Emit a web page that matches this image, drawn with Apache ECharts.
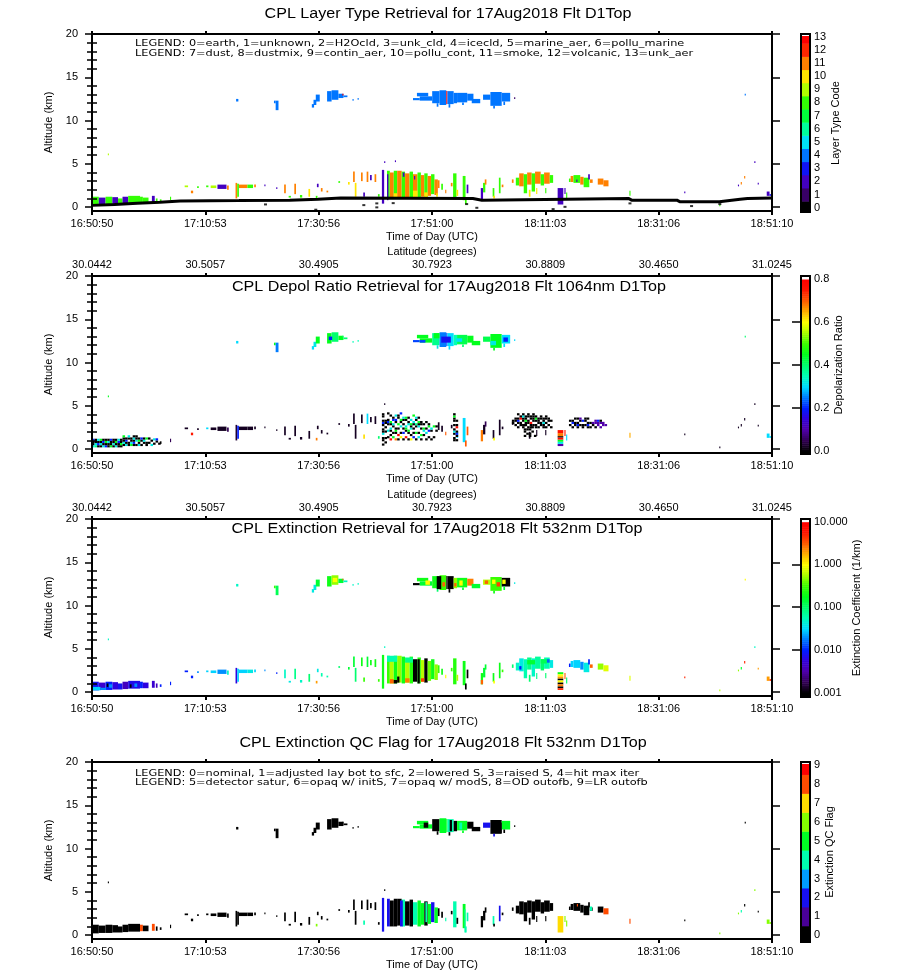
<!DOCTYPE html>
<html>
<head>
<meta charset="utf-8">
<title>CPL 17Aug2018 Flt D1Top</title>
<script src="https://cdn.jsdelivr.net/npm/echarts@6/dist/echarts.min.js"></script>
<style>
html, body { margin: 0; padding: 0; background: #fff; }
#chart { width: 900px; height: 971px; }
</style>
</head>
<body>
<div id="chart"></div>
<script>
// time is in minutes after 16:50:50 UTC, altitude in km
const timeTicks = ['16:50:50', '17:10:53', '17:30:56', '17:51:00', '18:11:03', '18:31:06', '18:51:10'];
const latTicks = ['30.0442', '30.5057', '30.4905', '30.7923', '30.8809', '30.4650', '31.0245'];
const timeSpan = 120.333;
const altTicks = [0, 5, 10, 15, 20];
const altMinor = [1, 2, 3, 4, 6, 7, 8, 9, 11, 12, 13, 14, 16, 17, 18, 19];
const typeCodes = [0, 1, 2, 3, 4, 5, 6, 7, 8, 9, 10, 11, 12, 13];
const qcCodes = [0, 1, 2, 3, 4, 5, 6, 7, 8, 9];
const depolTicks = [0, 0.2, 0.4, 0.6, 0.8];
const extTicks = [0.001, 0.01, 0.1, 1, 10];

// surface (earth) return in the layer type panel
const earthTime = [0, 4, 8, 12, 15.6, 26, 35, 40, 44, 67.4, 67.6, 69, 69.2, 95, 95.5, 103.5, 104, 111, 114.7, 116, 120.33];
const earthAlt = [0.2, 0.3, 0.45, 0.55, 0.7, 0.75, 0.8, 0.9, 1.05, 1.0, 0.8, 0.8, 1.0, 0.98, 0.8, 0.8, 0.63, 0.63, 0.92, 1.0, 1.05];
const earthDots = [[30.7, 0.31], [39.6, -0.3], [48.1, 0.23], [50.4, 0.43], [50.4, -0.03], [53.3, 0.46],
  [66.3, 0.35], [68.1, -0.08], [81.6, -0.23], [83.7, 0.03], [95.2, 0.43], [106.1, 0.12], [111.1, 0.35]];

// [t0, t1, base, top, layer type, depol ratio, extinction 1/km, qc flag]
const layerCells = [
  // cirrus
  [25.5, 25.9, 12.2, 12.5, 4, 0.30, 0.05, 0],
  [32.2, 32.5, 12.0, 12.3, 4, 0.45, 0.3, 0],
  [32.5, 33.0, 11.2, 12.3, 4, 0.25, 0.12, 0],
  [38.9, 39.3, 11.5, 11.9, 4, 0.30, 0.04, 0],
  [39.2, 39.7, 11.8, 12.4, 4, 0.32, 0.04, 0],
  [39.6, 40.3, 12.2, 13.0, 4, 0.45, 0.15, 0],
  [41.6, 42.4, 12.2, 13.4, 4, 0.45, 0.2, 0],
  [42.4, 43.6, 12.4, 13.5, 4, 0.40, 0.5, 0],
  [43.6, 44.5, 12.6, 13.1, 4, 0.45, 0.15, 0],
  [44.5, 45.2, 12.7, 12.9, 4, 0.40, 0.05, 0],
  [44.3, 44.5, 12.9, 13.1, 13, 0.40, 3, 0],
  [46.1, 46.3, 12.3, 12.5, 4, 0.35, 0.05, 0],
  [47.0, 47.2, 12.4, 12.6, 4, 0.35, 0.05, 0],
  [56.8, 58.0, 12.35, 12.6, 4, 0.22, 0.0009, 5],
  [57.5, 59.5, 12.8, 13.2, 4, 0.45, 0.2, 5],
  [58.0, 60.2, 12.3, 12.8, 4, 0.45, 0.15, 5],
  [60.2, 61.5, 12.0, 13.4, 4, 0.38, 0.2, 0],
  [61.5, 62.7, 11.8, 13.5, 4, 0.25, 0.3, 5],
  [62.7, 62.9, 11.9, 13.4, 13, 0.22, 0.0009, 5],
  [62.9, 64.0, 11.9, 13.4, 4, 0.30, 0.0009, 4],
  [64.0, 64.6, 12.0, 13.2, 4, 0.35, 0.5, 0],
  [64.6, 66.4, 12.1, 13.2, 4, 0.42, 0.2, 5],
  [66.4, 67.5, 12.3, 13.1, 4, 0.45, 2.5, 0],
  [67.2, 68.7, 12.0, 12.5, 4, 0.45, 0.15, 0],
  [69.2, 70.5, 12.4, 13.0, 4, 0.42, 0.6, 2],
  [70.5, 72.5, 11.7, 13.3, 4, 0.45, 0.3, 0],
  [72.5, 74.0, 12.2, 13.2, 4, 0.30, 0.0009, 5],
  [61.0, 61.3, 11.6, 12.0, 4, 0.32, 0.1, 0],
  [63.1, 63.4, 11.5, 11.9, 4, 0.30, 0.0009, 0],
  [65.5, 65.8, 11.8, 12.1, 4, 0.40, 0.15, 5],
  [71.0, 71.3, 11.4, 11.7, 4, 0.45, 0.2, 2],
  [72.8, 73.1, 11.8, 12.2, 4, 0.30, 0.15, 0],
  [74.7, 74.9, 12.5, 12.7, 1, 0.30, 0.04, 0],
  [115.5, 115.7, 12.9, 13.1, 4, 0.40, 1.0, 0],
  // boundary layer at the start
  [0.0, 1.2, 0.2, 1.2, 8, null, 0.008, 0],
  [1.2, 2.4, 0.25, 1.1, 2, null, 0.005, 0],
  [2.4, 3.6, 0.25, 1.2, 8, null, 0.01, 0],
  [3.6, 4.6, 0.3, 1.15, 2, null, 0.006, 0],
  [4.6, 5.4, 0.3, 1.0, 8, null, 0.008, 0],
  [5.4, 6.4, 0.35, 1.2, 2, null, 0.004, 0],
  [6.4, 8.5, 0.4, 1.3, 8, null, 0.007, 0],
  [8.5, 9.0, 0.45, 1.2, 8, null, 0.01, 8],
  [9.0, 10.0, 0.45, 1.1, 8, null, 0.006, 0],
  [10.6, 11.1, 0.5, 1.3, 2, null, 0.005, 8],
  [11.3, 11.6, 0.5, 1.0, 8, null, 0.004, 0],
  [12.0, 12.3, 0.6, 0.9, 8, 0.0, 0.01, 0],
  [13.8, 14.0, 0.8, 1.2, 8, 0.05, 0.01, 0],
  [2.8, 3.0, 6.0, 6.2, 9, 0.45, 0.05, 0],
  // thin elevated aerosol 17:07 - 17:42
  [16.4, 17.0, 2.3, 2.5, 9, 0.02, 0.01, 0],
  [17.5, 17.9, 1.6, 1.9, 11, 0.75, 0.01, 0],
  [18.6, 18.9, 2.2, 2.4, 8, 0.02, 0.02, 0],
  [20.2, 20.6, 2.3, 2.5, 8, 0.30, 0.03, 0],
  [21.0, 22.0, 2.2, 2.5, 9, 0.02, 0.03, 0],
  [22.2, 23.8, 2.1, 2.6, 2, 0.02, 0.02, 0],
  [23.9, 24.2, 2.0, 2.5, 11, 0.05, 0.05, 0],
  [25.4, 25.7, 1.0, 2.8, 11, 0.03, 0.006, 0],
  [25.7, 26.0, 1.2, 2.7, 8, 0.20, 0.03, 0],
  [26.0, 27.5, 2.2, 2.6, 11, 0.02, 0.03, 0],
  [27.5, 28.5, 2.2, 2.6, 8, 0.02, 0.04, 0],
  [28.7, 29.0, 2.3, 2.6, 11, 0.02, 0.03, 0],
  [30.5, 30.7, 2.4, 2.6, 2, 0.02, 0.02, 0],
  [32.6, 32.8, 2.1, 2.3, 2, 0.02, 0.01, 0],
  [34.0, 34.3, 1.6, 2.6, 11, 0.02, 0.05, 0],
  [35.8, 36.1, 1.5, 2.7, 11, 0.02, 0.08, 0],
  [34.8, 35.2, 1.1, 1.3, 8, 0.02, 0.04, 0],
  [36.8, 37.2, 1.1, 1.4, 8, 0.02, 0.05, 0],
  [38.3, 38.6, 1.2, 2.1, 10, 0.02, 0.1, 0],
  [39.6, 39.9, 1.0, 1.3, 8, 0.68, 2, 6],
  [39.8, 40.1, 2.3, 2.7, 2, 0.02, 0.04, 0],
  [40.5, 40.8, 1.8, 2.2, 11, 0.02, 0.06, 0],
  [41.5, 41.8, 1.7, 1.9, 11, 0.02, 0.06, 0],
  [43.6, 43.9, 2.8, 3.0, 8, 0.02, 0.1, 0],
  [45.3, 45.6, 2.6, 2.9, 10, 0.02, 0.15, 0],
  [46.2, 46.5, 2.9, 4.1, 11, 0.02, 0.15, 0],
  [46.5, 46.8, 1.2, 2.8, 10, 0.02, 0.1, 0],
  [47.6, 47.9, 3.0, 4.0, 11, 0.02, 0.2, 0],
  [48.0, 48.3, 1.2, 1.7, 2, 0.62, 0.3, 4],
  [48.6, 48.9, 2.9, 4.1, 11, 0.30, 0.15, 0],
  [49.2, 49.5, 3.1, 3.7, 2, 0.02, 0.2, 0],
  [50.0, 50.3, 2.9, 3.8, 11, 0.02, 0.2, 0],
  [50.6, 50.9, 1.2, 1.5, 8, 0.40, 0.3, 0],
  [51.3, 51.7, 0.4, 4.3, 2, null, 0.2, 2],
  [51.7, 51.9, 5.1, 5.3, 2, 0.02, 0.05, 0],
  // dense dust / smoke 17:43 - 17:52
  [52.2, 52.7, 1.0, 4.2, 8, null, 0.3, 2],
  [52.7, 53.4, 1.0, 4.0, 11, null, 0.6, 0],
  [53.4, 54.0, 1.0, 4.2, 8, null, 0.2, 0],
  [54.0, 54.8, 1.1, 4.2, 11, null, 0.5, 0],
  [54.8, 55.4, 1.0, 4.1, 8, null, 0.2, 4],
  [55.4, 56.2, 1.1, 3.9, 11, null, 0.6, 0],
  [56.2, 56.8, 1.0, 4.1, 8, null, 0.25, 0],
  [56.8, 57.6, 1.2, 3.8, 11, null, 0.0009, 4],
  [57.6, 58.2, 1.0, 4.0, 8, null, 0.25, 5],
  [58.2, 58.8, 1.2, 3.7, 11, null, 0.6, 5],
  [58.8, 59.4, 1.1, 3.9, 8, null, 0.0009, 0],
  [59.4, 60.0, 1.3, 3.6, 11, null, 0.4, 5],
  [60.0, 60.6, 1.5, 3.8, 8, null, 0.2, 2],
  [60.6, 61.2, 1.4, 3.2, 11, null, 0.5, 5],
  [61.2, 61.5, 2.2, 3.1, 11, 0.02, 0.3, 0],
  [61.8, 62.1, 2.0, 2.7, 8, 0.02, 0.2, 0],
  [62.5, 62.7, 1.6, 2.0, 11, 0.70, 1.0, 4],
  [63.5, 63.8, 2.4, 2.8, 11, 0.02, 0.3, 0],
  [63.9, 64.5, 0.9, 3.9, 8, null, 0.25, 4],
  [64.5, 64.8, 1.3, 2.0, 10, 0.30, 0.6, 0],
  [65.6, 66.1, 0.8, 3.6, 8, 0.30, 0.2, 5],
  [66.0, 66.3, 0.3, 1.0, 8, 0.70, 0.0009, 4],
  [66.3, 66.6, 1.6, 2.6, 2, 0.70, 0.0009, 4],
  [68.8, 69.2, 0.9, 2.2, 2, 0.68, 0.2, 0],
  [69.2, 69.6, 1.7, 2.8, 8, 0.02, 0.15, 0],
  [69.5, 69.8, 2.6, 3.2, 11, 0.05, 0.15, 0],
  [70.9, 71.2, 1.2, 2.2, 8, 0.02, 0.2, 4],
  [71.0, 71.3, 1.0, 1.3, 10, 0.60, 1.0, 0],
  [72.0, 72.3, 1.6, 3.4, 8, 0.02, 0.2, 2],
  [72.5, 72.8, 2.3, 2.6, 11, 0.02, 0.3, 0],
  // smoke layer 18:05 - 18:12
  [74.3, 74.6, 2.8, 3.2, 11, 0.02, 0.1, 0],
  [75.0, 75.6, 2.5, 3.4, 8, null, 0.05, 0],
  [75.6, 76.4, 2.4, 3.9, 11, null, 0.04, 0],
  [76.4, 77.0, 1.6, 3.8, 8, null, 0.06, 0],
  [77.0, 77.8, 2.6, 4.0, 11, null, 0.08, 0],
  [77.8, 78.4, 1.8, 3.9, 8, null, 0.05, 0],
  [78.4, 79.4, 2.7, 4.1, 11, null, 0.07, 0],
  [79.4, 80.0, 2.5, 3.8, 8, null, 0.1, 0],
  [80.0, 81.0, 2.7, 4.0, 11, null, 0.06, 0],
  [81.0, 81.6, 2.8, 3.7, 8, null, 0.04, 0],
  [77.3, 77.6, 1.2, 2.0, 10, 0.02, 0.1, 0],
  [78.6, 78.8, 1.5, 2.2, 10, 0.02, 0.08, 0],
  [80.2, 80.4, 1.6, 2.2, 8, 0.02, 0.1, 0],
  [82.4, 83.4, 0.3, 2.2, 2, null, null, 7],
  [83.6, 83.8, 1.5, 2.2, 2, 0.75, 3, 6],
  [83.9, 84.1, 1.0, 1.7, 8, 0.30, 0.1, 6],
  // layer 18:15 - 18:22
  [84.4, 84.7, 2.9, 3.3, 8, null, 0.01, 0],
  [84.7, 85.2, 2.9, 3.6, 11, null, 0.03, 0],
  [85.2, 86.4, 2.8, 3.7, 8, null, 0.03, 0],
  [86.4, 87.0, 2.6, 3.5, 11, null, 0.02, 0],
  [87.0, 88.0, 2.3, 3.4, 8, null, 0.04, 0],
  [87.8, 88.1, 3.2, 3.8, 2, null, 0.01, 0],
  [88.1, 88.6, 2.8, 3.2, 11, null, 3, 0],
  [89.5, 90.5, 2.6, 3.3, 11, null, 0.5, 0],
  [90.5, 91.4, 2.4, 3.1, 11, null, 0.8, 8],
  // scattered late returns
  [95.1, 95.3, 1.3, 1.9, 8, 0.65, 0.8, 8],
  [104.8, 105.0, 1.6, 1.8, 2, 0.02, 5, 0],
  [111.0, 111.2, 0.1, 0.3, 8, 0.02, 0.6, 6],
  [114.3, 114.5, 2.4, 2.6, 2, 0.02, 0.5, 6],
  [114.8, 115.0, 2.6, 2.9, 11, 0.02, 0.15, 4],
  [115.4, 115.6, 3.3, 3.6, 11, 0.02, 5, 0],
  [117.2, 117.4, 5.1, 5.3, 2, 0.02, 0.05, 6],
  [117.8, 118.0, 2.6, 2.8, 2, 0.02, 2, 0],
  [119.4, 119.9, 1.3, 1.8, 2, 0.30, 2, 6],
  [119.9, 120.3, 1.3, 1.5, 3, 0.30, 5, 6]
];

// per-panel detail drawn over the shared cells: [t0, t1, base, top, value]
const typeExtra = [
  [53.4, 54.0, 1.0, 1.6, 10], [56.8, 57.6, 1.2, 1.9, 10], [58.8, 59.4, 1.1, 1.7, 10],
  [60.9, 61.2, 1.2, 1.6, 10], [52.2, 52.45, 0.8, 3.8, 2], [53.6, 53.8, 5.2, 5.4, 2],
  [55.0, 55.3, 3.5, 4.0, 2], [57.0, 57.2, 3.2, 3.6, 2], [85.7, 85.9, 2.9, 3.2, 2]
];
const depolExtra = [
  [58.0, 59.0, 12.3, 12.6, 0.22], [61.8, 63.5, 12.3, 13.0, 0.18], [60.5, 61.5, 12.8, 13.4, 0.45],
  [64.5, 65.5, 12.4, 12.8, 0.30], [70.5, 71.5, 12.0, 12.5, 0.32], [72.8, 73.6, 12.4, 12.9, 0.20],
  [41.9, 42.5, 12.6, 13.0, 0.20],
  [82.4, 83.4, 0.35, 0.6, 0.10], [82.4, 83.4, 0.6, 0.85, 0.32], [82.4, 83.4, 0.85, 1.1, 0.45],
  [82.4, 83.4, 1.1, 1.35, 0.78], [82.4, 83.4, 1.35, 1.5, 0.0], [82.4, 83.4, 1.5, 1.85, 0.68],
  [82.4, 83.4, 1.85, 2.2, 0.76]
];
const extExtra = [
  [61.0, 61.8, 11.9, 13.4, 0.0009], [59.0, 59.8, 12.4, 12.9, 1.0], [62.0, 62.5, 12.2, 12.7, 3],
  [64.1, 64.5, 12.2, 12.6, 3], [65.0, 65.6, 12.3, 12.9, 1.0], [69.5, 70.1, 12.5, 12.9, 3],
  [70.8, 71.4, 12.5, 13.0, 1.0], [71.6, 72.2, 12.2, 12.7, 4], [72.6, 73.2, 12.5, 13.0, 1.0],
  [42.6, 43.4, 12.7, 13.2, 1.0],
  [0, 1.5, 0.2, 0.6, 0.03], [1.5, 2.5, 0.25, 0.5, 0.02], [3.0, 3.6, 0.5, 0.9, 0.02],
  [7.5, 8.0, 0.6, 1.0, 0.02], [2.6, 2.9, 0.6, 1.0, 0.0009], [6.7, 7.0, 0.5, 0.9, 0.0009],
  [52.2, 54.0, 3.5, 4.2, 0.06], [55.4, 56.8, 3.4, 4.0, 0.08], [52.7, 53.4, 1.0, 1.5, 3],
  [53.4, 54.0, 1.0, 1.4, 0.0009], [55.4, 56.2, 1.1, 1.6, 2.5], [58.2, 58.8, 1.2, 1.6, 4],
  [54.0, 54.4, 1.1, 1.8, 0.0009], [57.6, 58.0, 1.0, 3.8, 0.0009], [68.8, 69.2, 0.9, 1.4, 3],
  [77.0, 78.4, 3.2, 3.7, 0.15], [79.4, 80.5, 3.3, 3.8, 0.12], [75.6, 76.0, 2.6, 3.0, 0.01],
  [80.5, 81.0, 3.4, 3.8, 0.015],
  [82.4, 83.4, 2.05, 2.3, 0.2], [82.4, 83.4, 1.8, 2.05, 1.0], [82.4, 83.4, 1.55, 1.8, 2],
  [82.4, 83.4, 1.35, 1.55, 0.0009], [82.4, 83.4, 1.1, 1.35, 1.0], [82.4, 83.4, 0.9, 1.1, 0.0009],
  [82.4, 83.4, 0.65, 0.9, 2.5], [82.4, 83.4, 0.45, 0.65, 0.0009], [82.4, 83.4, 0.25, 0.45, 5]
];
const qcExtra = [
  [58.7, 59.5, 12.4, 13.0, 0], [63.3, 63.7, 12.0, 13.3, 0], [65.0, 65.5, 12.2, 13.0, 4],
  [71.5, 72.5, 11.8, 13.0, 0], [54.5, 55.0, 1.0, 4.0, 2], [65.9, 66.1, 0.3, 3.0, 4],
  [85.8, 86.0, 3.3, 3.6, 8], [88.1, 88.5, 2.8, 3.3, 4], [59.0, 59.3, 1.5, 3.8, 4]
];

// speckled depolarization returns: [t0, alt0, columns]; each character is one bin, bottom up
const speckDt = 0.45;
const speckDa = 0.25;
const depolKey = { k: 0.0, p: 0.1, b: 0.2, l: 0.26, c: 0.32, t: 0.38, g: 0.45, y: 0.6, o: 0.68, r: 0.78 };
const depolSpeckle = [
  [0.0, 0.2, ['ckkb', 'tckk', 'kbkc', 'kckg', 'ckbk', 'bkgk', 'kkck', 'gkkb', 'kckk', 'ckgk', 'kkbc', 'kgkk']],
  [5.4, 0.35, ['kckkg', 'ckbk.', 'kk.kc', 'gckk.', 'kbkck', 'k.ckk', 'ckgk.', 'k.kb.', '.kck.', 'kk.g.', '.k.k.', 'c.k..']],
  [10.8, 0.5, ['k.c', '.kb', 'k..']],
  [51.3, 0.4, ['k.kk.ckk.kbk.kk', '.k.k..k.k.kk...']],
  [52.2, 1.0, ['.k..c..kbk..k', 'r.k.kc.kg..k.', '.g.k..kc.bk..', 'o..kgk..kb.c.', 'k.r..k.g..kk.',
    '.y.k..c.kg..b', 'k..b.k.k.kc..', '.r..kgc..kg..', 'k..kg..ck.k..', 'y.k..ckg.c...',
    '.b.k.k.kc..g.', 'k..g..kt.kc..', '.c.k..ckg.k..', 'k.g..k.kk....', '..k.cg.k.....',
    'k..c.k..k....', '.k..b.gk.....', 'k...kc.......', '.k....g......', '....k.k......']],
  [63.9, 0.9, ['kk.kck.k.kkgk', 'k.kbk.rk.k...']],
  [74.3, 2.4, ['..kk...', '.k.kk..', 'k.kbk.k', '.kk.rk.', 'kk.kkck', '.kkgkk.', 'k.kk.kk', 'kkr.kk.',
    '.k.kkkk', 'kk.kgk.', 'k.kkk..', '.kk.kk.', 'kkckk..', 'k.k.kk.', '.k.kk..', 'k..k...']],
  [76.4, 1.4, ['k.kk.k', '.k.k..', 'kk.k..', '..k.k.', 'k.....']],
  [84.4, 2.4, ['.k.k..', 'k.bk..', '.kk.k.', 'kbk.k.', '.k.kp.', 'kk.b..', '.k.kk.', 'kbk.k.',
    'k.k...', '.kp...', 'k.pp..', '.ppb..', 'p.pk..', '.pp...', '.p....']]
];

// IDL style rainbow + white colour table
const cmapPos = [0, 0.06, 0.125, 0.19, 0.25, 0.31, 0.375, 0.44, 0.5, 0.56, 0.625, 0.7, 0.75, 0.8, 0.875, 0.94, 1];
const cmapRGB = [[0, 0, 0], [48, 0, 80], [80, 0, 170], [50, 0, 220], [0, 30, 255], [0, 120, 255], [0, 220, 255],
  [0, 255, 180], [0, 255, 110], [0, 255, 30], [60, 255, 0], [190, 255, 0], [255, 255, 0], [255, 190, 0],
  [255, 90, 0], [255, 20, 0], [255, 0, 0]];

function colorAt(f) {
  if (f > 1.0001) return '#ffffff';
  f = Math.max(0, Math.min(1, f));
  let i = 1;
  while (i < cmapPos.length - 1 && cmapPos[i] < f) i++;
  const a = cmapPos[i - 1], b = cmapPos[i];
  const w = b > a ? (f - a) / (b - a) : 0;
  const c = cmapRGB[i - 1].map((v, k) => Math.round(v + (cmapRGB[i][k] - v) * w));
  return 'rgb(' + c.join(',') + ')';
}

const typeColour = v => colorAt(v / 13);
const depolColour = v => colorAt(v / 0.8);
const extColour = v => colorAt((Math.log10(v) + 3) / 4);
const qcColour = v => colorAt(v / 9);

const timeStep = timeSpan / 6;
const timePos = timeTicks.map((_, i) => i * timeStep);
const FONT = 'Liberation Sans';

const mainTops = [34, 276, 519, 762];
const barBoxes = [[34, 178], [276, 178], [519, 178], [762, 180]];

function pick(rows, col) {
  return rows.filter(r => r[col] !== null).map(r => [r[0], r[1], r[2], r[3], r[col]]);
}

function speckleRows() {
  const out = [];
  depolSpeckle.forEach(([t0, a0, cols]) => {
    cols.forEach((col, i) => {
      for (let j = 0; j < col.length; j++) {
        const ch = col[j];
        if (ch === '.') continue;
        out.push([t0 + i * speckDt, t0 + (i + 1) * speckDt, a0 + j * speckDa, a0 + (j + 1) * speckDa, depolKey[ch]]);
      }
    });
  });
  return out;
}

function cellSeries(g, rows, colour) {
  return {
    type: 'custom', xAxisIndex: 2 * g, yAxisIndex: 4 * g, clip: true, silent: true, z: 2,
    data: rows, encode: { x: [0, 1], y: [2, 3] },
    renderItem: function (params, api) {
      const a = api.coord([api.value(0), api.value(3)]);
      const b = api.coord([api.value(1), api.value(2)]);
      return {
        type: 'rect',
        shape: { x: a[0], y: a[1], width: Math.max(b[0] - a[0], 1), height: Math.max(b[1] - a[1], 1) },
        style: { fill: colour(api.value(4)) }
      };
    }
  };
}

// colour bar bands: [y0, y1, f]
function discreteBands(codes, lo, whiteFrom, hi) {
  const n = codes.length - 1;
  const rows = codes.map(c => [Math.max(c - 0.5, lo), Math.min(c + 0.5, whiteFrom), c / n]);
  rows.push([whiteFrom, hi, 2]);
  return rows;
}
function rampBands(lo, v0, v1, hi, steps) {
  const rows = [[lo, v0, 0]];
  for (let i = 0; i < steps; i++) {
    const y0 = v0 + (v1 - v0) * i / steps, y1 = v0 + (v1 - v0) * (i + 1) / steps;
    rows.push([y0, y1, (i + 0.5) / steps]);
  }
  rows.push([v1, hi, 2]);
  return rows;
}

const barRanges = [[-0.327, 13.205], [-0.014, 0.814], [-3.1, 1.063], [-0.355, 9.159]];
const barRows = [
  discreteBands(typeCodes, -0.327, 13.09, 13.205),
  rampBands(-0.014, 0, 0.8, 0.814, 90),
  rampBands(-3.1, -3, 1, 1.063, 90),
  discreteBands(qcCodes, -0.355, 9.08, 9.159)
];

function barSeries(k) {
  return {
    type: 'custom', xAxisIndex: 8 + k, yAxisIndex: 16 + k, silent: true, z: 2,
    data: barRows[k], encode: { y: [0, 1] },
    renderItem: function (params, api) {
      const a = api.coord([0, api.value(1)]);
      const b = api.coord([1, api.value(0)]);
      return {
        type: 'rect',
        shape: { x: a[0], y: a[1], width: b[0] - a[0], height: b[1] - a[1] + 0.5 },
        style: { fill: colorAt(api.value(2)) }
      };
    }
  };
}
function barFrame(k) {
  return {
    type: 'custom', xAxisIndex: 8 + k, yAxisIndex: 16 + k, silent: true, z: 4,
    data: [[0, 1, barRanges[k][0], barRanges[k][1]]], encode: { x: [0, 1], y: [2, 3] },
    renderItem: function (params, api) {
      const a = api.coord([0, api.value(3)]);
      const b = api.coord([1, api.value(2)]);
      return {
        type: 'rect',
        shape: { x: a[0], y: a[1], width: b[0] - a[0], height: b[1] - a[1] },
        style: { fill: 'none', stroke: '#000', lineWidth: 2 }
      };
    }
  };
}

const labelStyle = { color: '#000', fontFamily: FONT, fontSize: 11 };
const blackLine = { color: '#000', width: 2 };

const grids = [], xAxes = [], yAxes = [];
mainTops.forEach((top, g) => {
  grids.push({ left: 92, top: top, width: 680, height: 177 });
  xAxes.push({
    type: 'value', gridIndex: g, position: 'bottom', min: 0, max: timeSpan, z: 10,
    name: 'Time of Day (UTC)', nameLocation: 'middle', nameGap: 20, nameTextStyle: labelStyle,
    axisLine: { show: true, onZero: false, lineStyle: blackLine },
    axisTick: { show: true, customValues: timePos, length: 4, lineStyle: blackLine },
    axisLabel: Object.assign({ customValues: timePos, margin: 7, formatter: v => timeTicks[Math.round(v / timeStep)] }, labelStyle),
    splitLine: { show: false }
  });
  const withLat = g === 1 || g === 2;
  xAxes.push({
    type: 'value', gridIndex: g, position: 'top', min: 0, max: timeSpan, z: 10,
    name: withLat ? 'Latitude (degrees)' : '', nameLocation: 'middle', nameGap: 19, nameTextStyle: labelStyle,
    axisLine: { show: true, onZero: false, lineStyle: blackLine },
    axisTick: { show: true, customValues: timePos, length: 3, lineStyle: blackLine },
    axisLabel: Object.assign({ show: withLat, customValues: timePos, margin: 6, formatter: v => latTicks[Math.round(v / timeStep)] }, labelStyle),
    splitLine: { show: false }
  });
  const altBase = { type: 'value', gridIndex: g, min: -0.45, max: 20, z: 10, splitLine: { show: false } };
  yAxes.push(Object.assign({}, altBase, {
    position: 'left', name: 'Altitude (km)', nameLocation: 'middle', nameGap: 29, nameTextStyle: labelStyle,
    axisLine: { show: true, onZero: false, lineStyle: blackLine },
    axisTick: { show: true, customValues: altTicks, length: 7, lineStyle: { color: '#000', width: 1.5 } },
    axisLabel: Object.assign({ customValues: altTicks, margin: 14 }, labelStyle)
  }));
  yAxes.push(Object.assign({}, altBase, {
    position: 'left', axisLine: { show: false }, axisLabel: { show: false },
    axisTick: { show: true, customValues: altMinor, length: 5, lineStyle: { color: '#000', width: 1.5 } }
  }));
  yAxes.push(Object.assign({}, altBase, {
    position: 'right', axisLine: { show: true, onZero: false, lineStyle: blackLine }, axisLabel: { show: false },
    axisTick: { show: true, customValues: altTicks, length: 8, lineStyle: { color: '#000', width: 1.5 } }
  }));
  yAxes.push(Object.assign({}, altBase, {
    position: 'right', axisLine: { show: false }, axisLabel: { show: false },
    axisTick: { show: true, customValues: altMinor, length: 5, lineStyle: { color: '#000', width: 1.5 } }
  }));
});

const barNames = ['Layer Type Code', 'Depolarization Ratio', 'Extinction Coefficient (1/km)', 'Extinction QC Flag'];
const barNameGaps = [16, 19, 39, 10];
const barLabelVals = [typeCodes, depolTicks, [-3, -2, -1, 0, 1], qcCodes];
const barInnerTicks = [[], [0.2, 0.4, 0.6], [-2, -1, 0], []];
const barFormat = [
  v => String(Math.round(v)),
  v => v.toFixed(1),
  v => extTicks[Math.round(v) + 3].toFixed(3),
  v => String(Math.round(v))
];
barBoxes.forEach(([top, h], k) => {
  grids.push({ left: 801, top: top, width: 9, height: h });
  xAxes.push({ type: 'value', gridIndex: 4 + k, min: 0, max: 1, show: false });
  yAxes.push({
    type: 'value', gridIndex: 4 + k, position: 'right', min: barRanges[k][0], max: barRanges[k][1], z: 10,
    name: barNames[k], nameLocation: 'middle', nameRotate: 90, nameGap: barNameGaps[k], nameTextStyle: labelStyle,
    axisLine: { show: false },
    axisTick: { show: barInnerTicks[k].length > 0, inside: true, length: 9, customValues: barInnerTicks[k].length ? barInnerTicks[k] : [0], lineStyle: { color: '#000', width: 1.5 } },
    axisLabel: Object.assign({ customValues: barLabelVals[k], margin: 4, formatter: barFormat[k] }, labelStyle),
    splitLine: { show: false }
  });
});

const series = [
  cellSeries(0, pick(layerCells, 4).concat(typeExtra), typeColour),
  {
    type: 'line', xAxisIndex: 0, yAxisIndex: 0, z: 3, silent: true, symbol: 'none',
    data: earthTime.map((t, i) => [t, earthAlt[i]]), lineStyle: { color: '#000', width: 3 }
  },
  {
    type: 'scatter', xAxisIndex: 0, yAxisIndex: 0, z: 3, silent: true, symbol: 'rect', symbolSize: [3, 2],
    data: earthDots, itemStyle: { color: '#000' }
  },
  cellSeries(1, pick(layerCells, 5).concat(speckleRows(), depolExtra), depolColour),
  cellSeries(2, pick(layerCells, 6).concat(extExtra), extColour),
  cellSeries(3, pick(layerCells, 7).concat(qcExtra), qcColour)
];
[0, 1, 2, 3].forEach(k => { series.push(barSeries(k)); series.push(barFrame(k)); });

// titles and legends; [x, y, text, kind], kind 0 = centred title, 1 = left aligned legend
const texts = [
  [448, 14, 'CPL Layer Type Retrieval for 17Aug2018 Flt D1Top', 0],
  [135, 44, 'LEGEND: 0=earth, 1=unknown, 2=H2Ocld, 3=unk_cld, 4=icecld, 5=marine_aer, 6=pollu_marine', 1],
  [135, 53.5, 'LEGEND: 7=dust, 8=dustmix, 9=contin_aer, 10=pollu_cont, 11=smoke, 12=volcanic, 13=unk_aer', 1],
  [449, 287, 'CPL Depol Ratio Retrieval for 17Aug2018 Flt 1064nm D1Top', 0],
  [437, 529, 'CPL Extinction Retrieval for 17Aug2018 Flt 532nm D1Top', 0],
  [443, 743, 'CPL Extinction QC Flag for 17Aug2018 Flt 532nm D1Top', 0],
  [135, 773.3, 'LEGEND: 0=nominal, 1=adjusted lay bot to sfc, 2=lowered S, 3=raised S, 4=hit max iter', 1],
  [135, 782.7, 'LEGEND: 5=detector satur, 6=opaq w/ initS, 7=opaq w/ modS, 8=OD outofb, 9=LR outofb', 1]
];
const textStyles = [
  { fill: '#000', fontFamily: FONT, fontSize: 14, textAlign: 'center', textVerticalAlign: 'middle' },
  { fill: '#000', fontFamily: 'DejaVu Sans', fontSize: 9.5, textAlign: 'left', textVerticalAlign: 'middle' }
];
const textScale = [1.15, 1.19];

const chart = echarts.init(document.getElementById('chart'));
chart.setOption({
  animation: false,
  backgroundColor: '#fff',
  grid: grids,
  xAxis: xAxes,
  yAxis: yAxes,
  series: series,
  graphic: texts.map(([x, y, text, kind]) => ({
    type: 'text', x: x, y: y, scaleX: textScale[kind], z: 20, silent: true,
    style: Object.assign({ text: text }, textStyles[kind])
  }))
});
</script>
</body>
</html>
